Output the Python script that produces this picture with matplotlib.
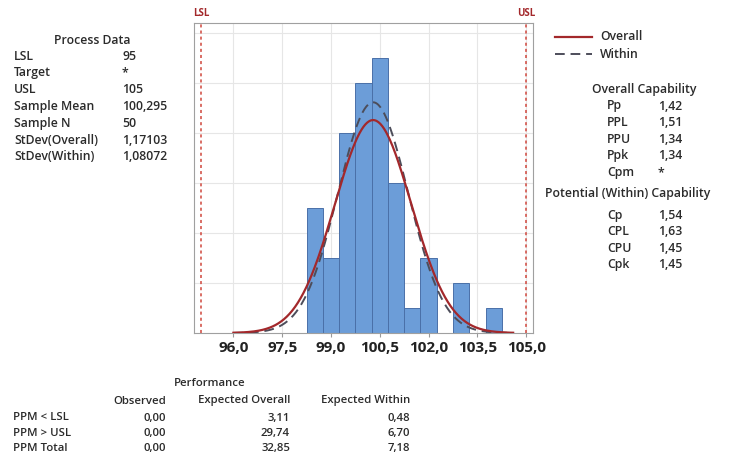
import numpy as np
import matplotlib.pyplot as plt

plt.rcParams['font.family'] = ['Open Sans', 'DejaVu Sans']

# histogram data (bin width 0.5)
bin_edges = [98.25, 98.75, 99.25, 99.75, 100.25, 100.75, 101.25,
             101.75, 102.25, 102.75, 103.25, 103.75, 104.25]
counts = [5, 3, 8, 10, 11, 6, 1, 3, 0, 2, 0, 1]

lsl = 95
usl = 105
mean = 100.295
n = 50
sd_overall = 1.17103
sd_within = 1.08072
xticks = [96.0, 97.5, 99.0, 100.5, 102.0, 103.5, 105.0]

process_labels = ["LSL", "Target", "USL", "Sample Mean", "Sample N",
                  "StDev(Overall)", "StDev(Within)"]
process_values = ["95", "*", "105", "100,295", "50", "1,17103", "1,08072"]

overall_labels = ["Pp", "PPL", "PPU", "Ppk", "Cpm"]
overall_values = ["1,42", "1,51", "1,34", "1,34", "*"]
within_labels = ["Cp", "CPL", "CPU", "Cpk"]
within_values = ["1,54", "1,63", "1,45", "1,45"]

perf_rows = ["PPM < LSL", "PPM > USL", "PPM Total"]
perf_observed = ["0,00", "0,00", "0,00"]
perf_overall = ["3,11", "29,74", "32,85"]
perf_within = ["0,48", "6,70", "7,18"]

bar_color = "#6c9dd8"
red = "#a3282b"
txt = "#2b2b2b"

fig = plt.figure(figsize=(7.38, 4.62), dpi=100)
W, H = 738, 462


def fx(px):
    return px / W


def fy(py):
    return 1 - py / H


ax = fig.add_axes([fx(194), fy(333), fx(533) - fx(194), fy(23) - fy(333)])
widths = np.diff(bin_edges)
ax.bar(bin_edges[:-1], counts, width=widths, align='edge', color=bar_color,
       edgecolor="#4a70a8", linewidth=0.7, zorder=2)

xs = np.linspace(96.0, 104.6, 300)
scale = n * 0.5


def normal(x, m, s):
    return scale * np.exp(-0.5 * ((x - m) / s) ** 2) / (s * np.sqrt(2 * np.pi))


ax.plot(xs, normal(xs, mean, sd_within), color="#4d4d5a", lw=1.4,
        ls=(0, (5, 3)), zorder=3)
ax.plot(xs, normal(xs, mean, sd_overall), color=red, lw=1.6, zorder=4)

for v, lab in [(lsl, "LSL"), (usl, "USL")]:
    ax.axvline(v, color="#d0463c", lw=1.1, ls=(0, (2, 2)), zorder=3)
    ax.text(v, 12.55, lab, ha='center', va='bottom', color=red,
            fontsize=7, fontweight='bold')

ax.set_xlim(94.79, 105.21)
ax.set_ylim(0, 12.4)
ax.set_xticks(xticks)
ax.set_xticklabels([f"{t:.1f}".replace(".", ",") for t in xticks],
                   fontsize=11, fontweight='bold', color="#222222")
ax.set_yticks([2, 4, 6, 8, 10, 12])
ax.tick_params(axis='y', left=False, labelleft=False)
ax.tick_params(axis='x', length=3, color="#999999", pad=3)
ax.grid(True, color="#e6e6e6", lw=0.8, zorder=0)
for s in ax.spines.values():
    s.set_color("#a0a0a0")
    s.set_linewidth(0.8)

fs = 8.8
fw = 'semibold'


def put(x, y, s, ha='left', size=fs):
    fig.text(fx(x), fy(y), s, ha=ha, va='center', fontsize=size,
             color=txt, fontweight=fw)


# process data block
put(92, 40, "Process Data", ha='center')
for i, (lab, val) in enumerate(zip(process_labels, process_values)):
    y = 56 + i * 16.8
    put(14, y, lab)
    put(122, y, val)

# legend
fig.lines.append(plt.Line2D([fx(555), fx(592)], [fy(37), fy(37)], color=red,
                            lw=1.6, transform=fig.transFigure))
fig.lines.append(plt.Line2D([fx(555), fx(592)], [fy(54), fy(54)],
                            color="#4d4d5a", lw=1.4, ls=(0, (5, 3)),
                            transform=fig.transFigure))
put(600, 37, "Overall")
put(600, 54, "Within")

# capability blocks
put(644, 90, "Overall Capability", ha='center')
for i, (lab, val) in enumerate(zip(overall_labels, overall_values)):
    y = 106 + i * 16.6
    put(607, y, lab)
    put(658, y, val)

put(545, 194, "Potential (Within) Capability")
for i, (lab, val) in enumerate(zip(within_labels, within_values)):
    y = 215 + i * 16.6
    put(607, y, lab)
    put(658, y, val)

# performance table
tfs = 8.2
put(210, 384, "Performance", ha='center', size=tfs)
cols_x = [166, 290, 410]
for x, head in zip(cols_x, ["Observed", "Expected Overall", "Expected Within"]):
    put(x, 401, head, ha='right', size=tfs)
for i, lab in enumerate(perf_rows):
    y = 418 + i * 15.2
    put(13, y, lab, size=tfs)
    for x, vals in zip(cols_x, [perf_observed, perf_overall, perf_within]):
        put(x, y, vals[i], ha='right', size=tfs)

fig.savefig("out.png", dpi=100)
